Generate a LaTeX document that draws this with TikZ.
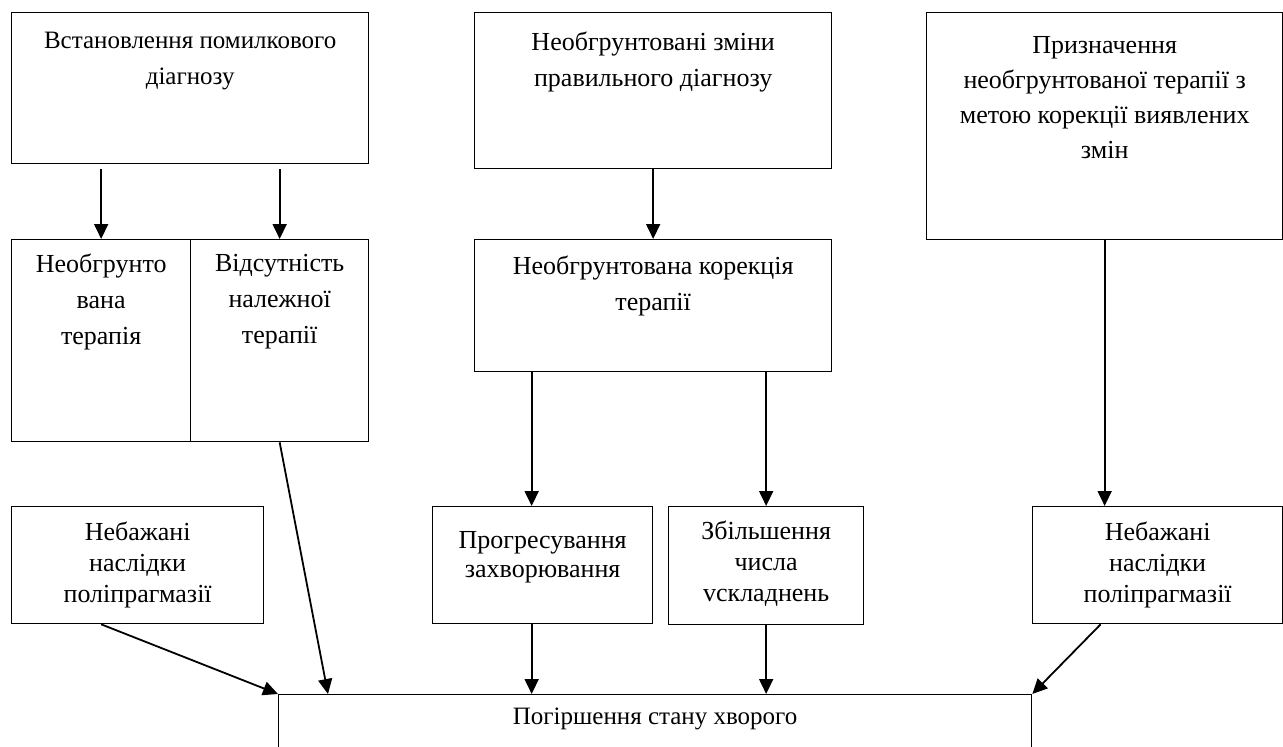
\documentclass[tikz,border=0pt]{standalone}
\usepackage{fontspec}
\setmainfont{Liberation Serif}
\usetikzlibrary{arrows.meta,positioning}

\tikzset{
  box/.style={draw, line width=1.3pt, inner sep=0pt, anchor=north west},
  txt/.style={align=center, inner sep=0pt, font=\fontsize{26}{36}\selectfont},
  txtsmall/.style={align=center, inner sep=0pt, font=\fontsize{26}{31}\selectfont},
  arr/.style={line width=1.8pt, -{Triangle[length=15pt,width=14pt]}}
}

\begin{document}
\begin{tikzpicture}[x=1pt, y=-1pt]
    \useasboundingbox (0,0) rectangle (1283,747);
    \clip (0,0) rectangle (1283,747);

    % top row
    \node[box, minimum width=357pt, minimum height=151pt] (diag) at (11,12) {};
    \node[txt, font=\fontsize{25}{36}\selectfont, below=20pt of diag.north] (diagt) {Встановлення помилкового\\діагнозу};
    \node[box, minimum width=357pt, minimum height=156pt] (chg) at (474,12) {};
    \node[txt, below=20pt of chg.north] (chgt) {Необгрунтовані зміни\\правильного діагнозу};
    \node[box, minimum width=356pt, minimum height=227pt] (presc) at (926,12) {};
    \node[txt, font=\fontsize{26}{35}\selectfont, below=24pt of presc.north] (presct) {Призначення\\необгрунтованої терапії з\\метою корекції виявлених\\змін};

    % middle row
    \node[box, minimum width=179pt, minimum height=202pt] (nt) at (11,239) {};
    \node[txt, below=15pt of nt.north] (ntt) {Необгрунто\\вана\\терапія};
    \node[box, minimum width=178pt, minimum height=202pt] (nl) at (190,239) {};
    \node[txt, below=15pt of nl.north] (nlt) {Відсутність\\належної\\терапії};
    \node[box, minimum width=357pt, minimum height=132pt] (corr) at (474,239) {};
    \node[txt, below=17pt of corr.north] (corrt) {Необгрунтована корекція\\терапії};

    % lower row
    \node[box, minimum width=252pt, minimum height=117pt] (und1) at (11,506) {};
    \node[txtsmall, below=16pt of und1.north] (und1t) {Небажані\\наслідки\\поліпрагмазії};
    \node[box, minimum width=220pt, minimum height=117pt] (prog) at (432,506) {};
    \node[txtsmall, font=\fontsize{26}{29}\selectfont, below=25pt of prog.north] (progt) {Прогресування\\захворювання};
    \node[box, minimum width=195pt, minimum height=118pt] (incr) at (668,506) {};
    \node[txtsmall, below=15pt of incr.north] (incrt) {Збільшення\\числа\\vскладнень};
    \node[box, minimum width=250pt, minimum height=117pt] (und2) at (1032,506) {};
    \node[txtsmall, below=16pt of und2.north] (und2t) {Небажані\\наслідки\\поліпрагмазії};

    % result
    \node[box, minimum width=753pt, minimum height=80pt] (bad) at (278,694) {};
    \node[txt, font=\fontsize{25}{36}\selectfont, below=14pt of bad.north] (badt) {Погіршення стану хворого};

    % arrows
    \draw[arr, shorten <=5pt] (diag.south -| nt.north) -- (nt.north);
    \draw[arr, shorten <=5pt] (diag.south -| nl.north) -- (nl.north);
    \draw[arr] (chg.south) -- (corr.north);
    \draw[arr] (presc.south) -- (presc.south |- und2.north);
    \draw[arr] ([xshift=-11pt]prog.north |- corr.south) -- ([xshift=-11pt]prog.north);
    \draw[arr] (corr.south -| incr.north) -- (incr.north);
    \draw[arr] (und1.south -| nt.south) -- (bad.north west);
    \draw[arr] (nl.south) -- ([xshift=50pt]bad.north west);
    \draw[arr] ([xshift=-11pt]prog.south) -- ([xshift=-11pt]prog.south |- bad.north);
    \draw[arr] (incr.south) -- (incr.south |- bad.north);
    \draw[arr] ([xshift=-57pt]und2.south) -- (bad.north east);
\end{tikzpicture}
\end{document}
